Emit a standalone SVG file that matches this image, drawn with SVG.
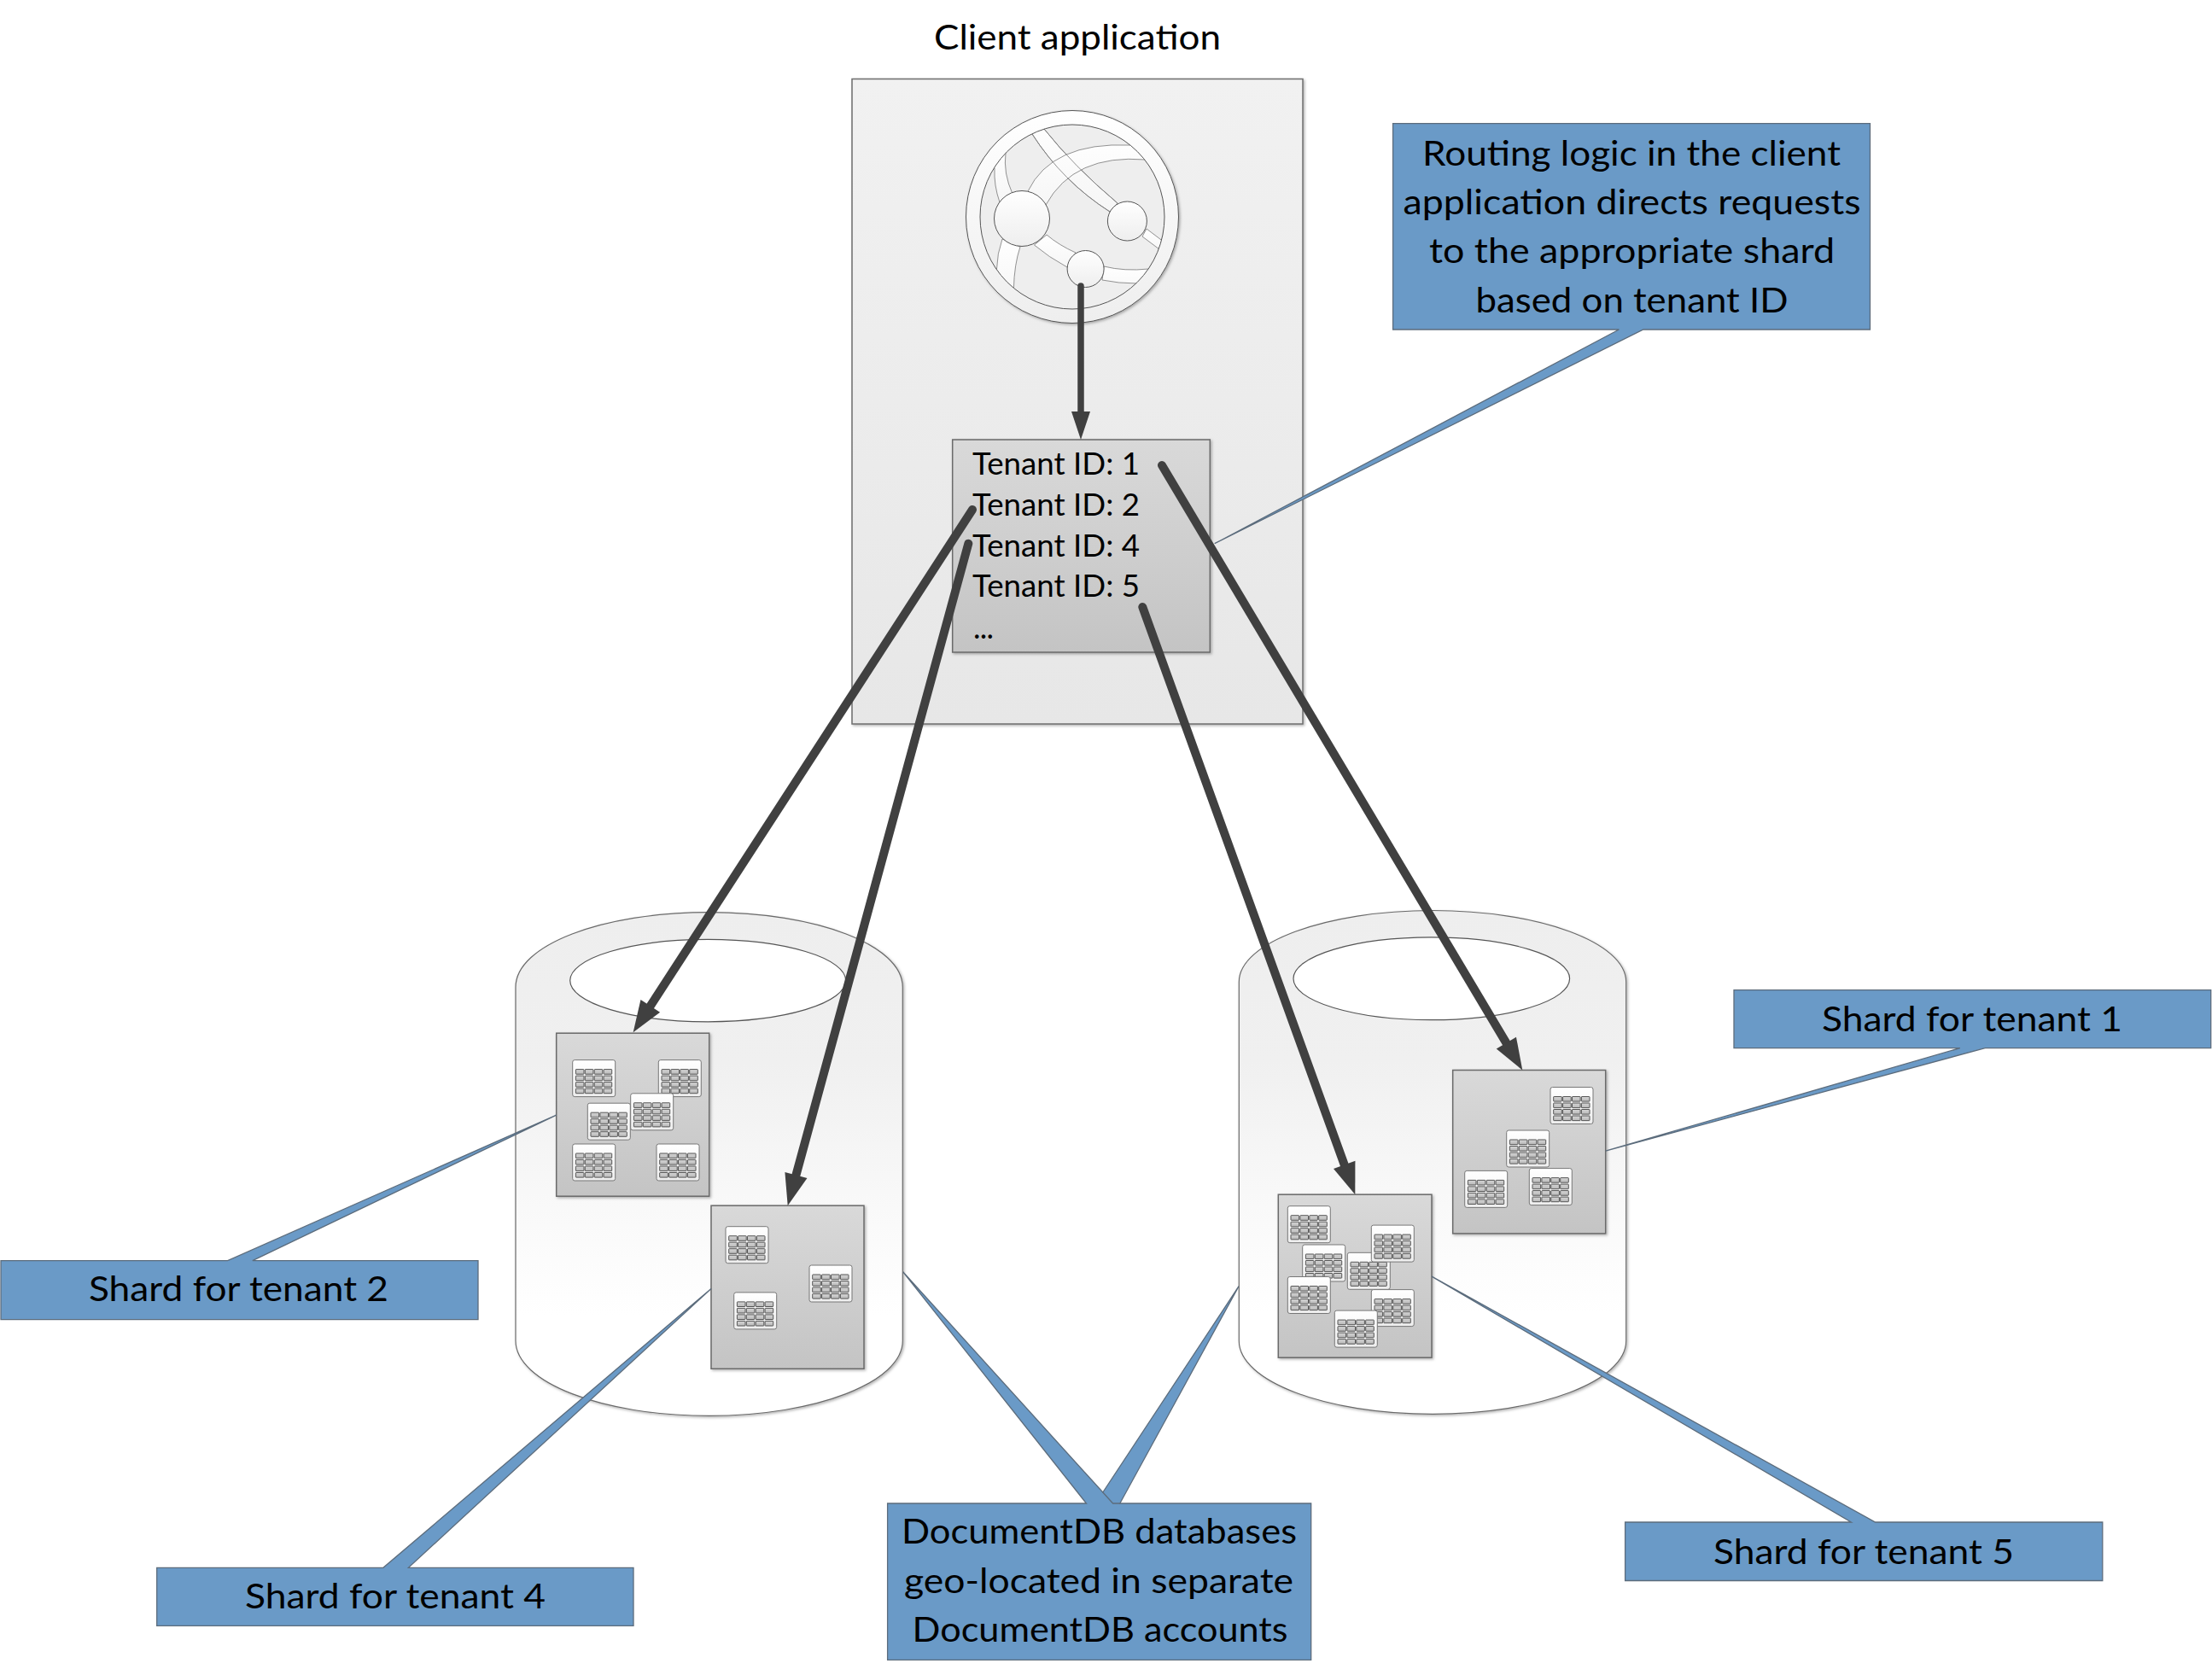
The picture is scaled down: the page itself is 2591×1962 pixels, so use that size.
<svg xmlns="http://www.w3.org/2000/svg" xmlns:xlink="http://www.w3.org/1999/xlink" width="2591" height="1962" viewBox="0 0 2591 1962">
<style>
text{font-family:Lato,"Liberation Sans",sans-serif;fill:#000}
.t40{font-size:40px}
.t36{font-size:36px}
.frame{fill:url(#gApp);stroke:#6e6e6e;stroke-width:1.5;filter:url(#sh)}
.shard{fill:url(#gShard);stroke:#6a6a6a;stroke-width:1.5;filter:url(#sh)}
.cyl{fill:url(#gCyl);stroke:#6a6a6a;stroke-width:1.2;filter:url(#sh)}
.hole{fill:#fff;stroke:#555;stroke-width:1.2}
.call{fill:#6a9ac7;stroke:#5c6c7c;stroke-width:1.3;stroke-linejoin:miter}
.arr{fill:none;stroke:#404040;stroke-width:10;stroke-linecap:round;marker-end:url(#ah)}
.arrTop{fill:none;stroke:#404040;stroke-width:7.5;stroke-linecap:round;marker-end:url(#ahTop)}
.g{stroke:#555;stroke-width:1}
.band{fill:url(#gBand);stroke:#777;stroke-width:0.8}
.edge{fill:none;stroke:#777;stroke-width:0.8}
</style>
<defs>
<linearGradient id="gApp" x1="0" y1="0" x2="0" y2="1"><stop offset="0" stop-color="#f1f1f1"/><stop offset="1" stop-color="#e7e7e7"/></linearGradient>
<linearGradient id="gShard" x1="0" y1="0" x2="0" y2="1"><stop offset="0" stop-color="#d9d9d9"/><stop offset="1" stop-color="#c4c4c4"/></linearGradient>
<linearGradient id="gCyl" x1="0" y1="0" x2="0" y2="1"><stop offset="0" stop-color="#eeeeee"/><stop offset="0.3" stop-color="#f0f0f0"/><stop offset="0.62" stop-color="#fafafa"/><stop offset="0.8" stop-color="#ffffff"/></linearGradient>
<linearGradient id="gWhite" x1="0" y1="0" x2="0" y2="1"><stop offset="0" stop-color="#ffffff"/><stop offset="1" stop-color="#eeeeee"/></linearGradient>
<linearGradient id="gBand" x1="0" y1="0" x2="0" y2="1"><stop offset="0" stop-color="#ffffff"/><stop offset="1" stop-color="#f6f6f6"/></linearGradient>
<linearGradient id="gCell" x1="0" y1="0" x2="0" y2="1"><stop offset="0" stop-color="#d6d6d6"/><stop offset="1" stop-color="#b8b8b8"/></linearGradient>
<filter id="sh" x="-5%" y="-5%" width="110%" height="110%"><feDropShadow dx="1.5" dy="1.5" stdDeviation="1.5" flood-color="#000" flood-opacity="0.3"/></filter>
<clipPath id="globeClip"><circle cx="1256" cy="254" r="108"/></clipPath>
<marker id="ah" markerUnits="userSpaceOnUse" markerWidth="40" markerHeight="28" refX="2" refY="13.5" orient="auto" overflow="visible"><path d="M0,0L37,13.5L0,27Z" fill="#404040"/></marker>
<marker id="ahTop" markerUnits="userSpaceOnUse" markerWidth="36" markerHeight="24" refX="2" refY="11" orient="auto" overflow="visible"><path d="M0,0L33,11L0,22Z" fill="#404040"/></marker>
<g id="row">
<rect x="3.7" y="0" width="9.6" height="5.6" rx="0.5" fill="url(#gCell)" class="g"/>
<rect x="14.6" y="0" width="9.6" height="5.6" rx="0.5" fill="url(#gCell)" class="g"/>
<rect x="25.5" y="0" width="9.6" height="5.6" rx="0.5" fill="url(#gCell)" class="g"/>
<rect x="36.4" y="0" width="9.6" height="5.6" rx="0.5" fill="url(#gCell)" class="g"/>
</g>
<g id="tbl">
<rect x="0" y="0" width="50" height="43" rx="2.5" fill="url(#gWhite)" stroke="#777" stroke-width="1"/>
<use xlink:href="#row" href="#row" y="11"/>
<use xlink:href="#row" href="#row" y="18.5"/>
<use xlink:href="#row" href="#row" y="26"/>
<use xlink:href="#row" href="#row" y="33.5"/>
</g>
</defs>
<rect width="2591" height="1962" fill="#fff"/>

<g id="client-title"><text class="t40" x="1094" y="57.5" textLength="336" lengthAdjust="spacingAndGlyphs">Client application</text></g>

<g id="client-app">
<rect class="frame" x="998" y="92.5" width="528" height="755.5"/>
<g id="globe">
<circle cx="1256" cy="254" r="124.5" fill="url(#gWhite)" stroke="#555" stroke-width="1" filter="url(#sh)"/>
<circle cx="1256" cy="254" r="108" fill="#eeeeee"/>
<g clip-path="url(#globeClip)">
<path class="band" d="M1209,157Q1245,213 1300,248L1309,238Q1258,195 1223,151L1222,130L1195,135Z"/>
<path class="band" d="M1343,268L1361.5,282L1375,295L1358,292L1338,277Z"/>
<path class="band" d="M1204,224Q1232,166 1324,170L1345,160L1360,185L1342,187Q1258,180 1225,240Z"/>
<path class="edge" d="M1209,157Q1245,213 1300,248M1309,238Q1258,195 1223,151"/>
<path class="band" d="M1186,227Q1175,203 1178,179L1172,165L1155,190L1165,197Q1164,217 1171,237Z"/>
<path class="band" d="M1174,280Q1168,297 1167.5,315L1165,335L1187,350L1187.4,338Q1188,310 1195,289Z"/>
<path class="band" d="M1226,275Q1240,287 1260,296L1250,313Q1228,301 1211.5,287Z"/>
<path class="band" d="M1293,312Q1317,318 1345.5,315L1365,318L1345,345L1332,332Q1310,332 1291,328Z"/>
</g>
<circle cx="1256" cy="254" r="108" fill="none" stroke="#555" stroke-width="1"/>
<circle cx="1197" cy="256" r="32.5" fill="url(#gWhite)" stroke="#555" stroke-width="1"/>
<circle cx="1320.4" cy="259" r="23" fill="url(#gWhite)" stroke="#555" stroke-width="1"/>
<circle cx="1271.6" cy="315" r="21.5" fill="url(#gWhite)" stroke="#555" stroke-width="1"/>
</g>
</g>

<g id="tenant-list">
<rect class="shard" x="1115.7" y="515" width="301.6" height="249"/>
<text class="t36" x="1139" y="556" textLength="196" lengthAdjust="spacingAndGlyphs">Tenant ID: 1</text>
<text class="t36" x="1139" y="604" textLength="196" lengthAdjust="spacingAndGlyphs">Tenant ID: 2</text>
<text class="t36" x="1139" y="652" textLength="196" lengthAdjust="spacingAndGlyphs">Tenant ID: 4</text>
<text class="t36" x="1139" y="699" textLength="196" lengthAdjust="spacingAndGlyphs">Tenant ID: 5</text>
<text class="t36" x="1140" y="748" textLength="27" letter-spacing="3">...</text>
</g>

<g id="db-left">
<path class="cyl" d="M604,1156.3C604,1107 705,1068.6 830.7,1068.6C956,1068.6 1057.3,1107 1057.3,1156.3V1570.6C1057.3,1619 956,1658.4 830.7,1658.4C705,1658.4 604,1619 604,1570.6Z"/>
<ellipse class="hole" cx="829.2" cy="1148.6" rx="161.5" ry="48.2"/>
</g>
<g id="db-right">
<path class="cyl" d="M1451.3,1150.2C1451.3,1104 1553,1066.5 1678,1066.5C1803,1066.5 1904.7,1104 1904.7,1150.2V1570.6C1904.7,1618 1803,1656.3 1678,1656.3C1553,1656.3 1451.3,1618 1451.3,1570.6Z"/>
<ellipse class="hole" cx="1676.8" cy="1146.3" rx="161.8" ry="48.4"/>
</g>

<g id="shard-2">
<rect class="shard" x="651.7" y="1210.2" width="179" height="191"/>
<use xlink:href="#tbl" href="#tbl" x="670.7" y="1241.6"/>
<use xlink:href="#tbl" href="#tbl" x="771.3" y="1241.6"/>
<use xlink:href="#tbl" href="#tbl" x="688.3" y="1292.2"/>
<use xlink:href="#tbl" href="#tbl" x="738.7" y="1280.8"/>
<use xlink:href="#tbl" href="#tbl" x="670.7" y="1340"/>
<use xlink:href="#tbl" href="#tbl" x="769" y="1340"/>
</g>
<g id="shard-4">
<rect class="shard" x="833" y="1412.2" width="179" height="191.1"/>
<use xlink:href="#tbl" href="#tbl" x="850" y="1436.7"/>
<use xlink:href="#tbl" href="#tbl" x="948" y="1482"/>
<use xlink:href="#tbl" href="#tbl" x="859.7" y="1513.9"/>
</g>
<g id="shard-1">
<rect class="shard" x="1701.7" y="1253.5" width="179" height="191.4"/>
<use xlink:href="#tbl" href="#tbl" x="1816" y="1273.5"/>
<use xlink:href="#tbl" href="#tbl" x="1764.7" y="1324"/>
<use xlink:href="#tbl" href="#tbl" x="1715.7" y="1371.4"/>
<use xlink:href="#tbl" href="#tbl" x="1791.3" y="1368.6"/>
</g>
<g id="shard-5">
<rect class="shard" x="1497.3" y="1399.2" width="179.7" height="191"/>
<use xlink:href="#tbl" href="#tbl" x="1508.3" y="1412.7"/>
<use xlink:href="#tbl" href="#tbl" x="1525.7" y="1458"/>
<use xlink:href="#tbl" href="#tbl" x="1578.3" y="1467.3"/>
<use xlink:href="#tbl" href="#tbl" x="1606.3" y="1435.1"/>
<use xlink:href="#tbl" href="#tbl" x="1606.3" y="1510.6"/>
<use xlink:href="#tbl" href="#tbl" x="1508.3" y="1495.5"/>
<use xlink:href="#tbl" href="#tbl" x="1563.3" y="1535.1"/>
</g>

<g id="callout-routing">
<path class="call" d="M1631.6,144.7H2190.5V386H1924.9L1422.7,636.7L1896.4,386H1631.6Z"/>
<text class="t40" x="1666" y="194" textLength="490" lengthAdjust="spacingAndGlyphs">Routing logic in the client</text>
<text class="t40" x="1643.5" y="251" textLength="536" lengthAdjust="spacingAndGlyphs">application directs requests</text>
<text class="t40" x="1674" y="308" textLength="475" lengthAdjust="spacingAndGlyphs">to the appropriate shard</text>
<text class="t40" x="1728.5" y="365.5" textLength="366" lengthAdjust="spacingAndGlyphs">based on tenant ID</text>
</g>
<g id="callout-tenant-2">
<path class="call" d="M1,1476.7H266.7L651.7,1306.1L295.8,1476.7H560V1545.7H1Z"/>
<text class="t40" x="104" y="1524.3" textLength="351" lengthAdjust="spacingAndGlyphs">Shard for tenant 2</text>
</g>
<g id="callout-tenant-4">
<path class="call" d="M183.7,1836.3H448.9L833,1509.4L478.4,1836.3H742V1904.3H183.7Z"/>
<text class="t40" x="287" y="1884" textLength="352" lengthAdjust="spacingAndGlyphs">Shard for tenant 4</text>
</g>
<g id="callout-tenant-1">
<path class="call" d="M2031,1159.7H2589.7V1227.6H2325.3L1880.7,1348.2L2295.9,1227.6H2031Z"/>
<text class="t40" x="2134" y="1207.5" textLength="352" lengthAdjust="spacingAndGlyphs">Shard for tenant 1</text>
</g>
<g id="callout-tenant-5">
<path class="call" d="M1903.6,1783H2168.4L1677,1495.1L2196.6,1783H2462.8V1851.5H1903.6Z"/>
<text class="t40" x="2007" y="1832" textLength="352" lengthAdjust="spacingAndGlyphs">Shard for tenant 5</text>
</g>
<g id="callout-databases">
<path class="call" d="M1039.6,1761H1272.5L1057.9,1490L1291.8,1748L1451,1506.7L1311.8,1761H1535.7V1944.3H1039.6Z"/>
<path d="M1291.8,1748L1303.6,1761H1311.8" fill="none" stroke="#5c6c7c" stroke-width="1.3"/>
<text class="t40" x="1056" y="1808.3" textLength="463" lengthAdjust="spacingAndGlyphs">DocumentDB databases</text>
<text class="t40" x="1059" y="1866" textLength="456" lengthAdjust="spacingAndGlyphs">geo-located in separate</text>
<text class="t40" x="1068.6" y="1923.3" textLength="440" lengthAdjust="spacingAndGlyphs">DocumentDB accounts</text>
</g>

<g id="connectors">
<path class="arrTop" d="M1266,335V484"/>
<path class="arr" d="M1361,545L1765.4,1223.4"/>
<path class="arr" d="M1139,597L760.7,1180"/>
<path class="arr" d="M1134.3,636.7L931.9,1378.4"/>
<path class="arr" d="M1338.3,711L1575.4,1366.3"/>
</g>
</svg>
